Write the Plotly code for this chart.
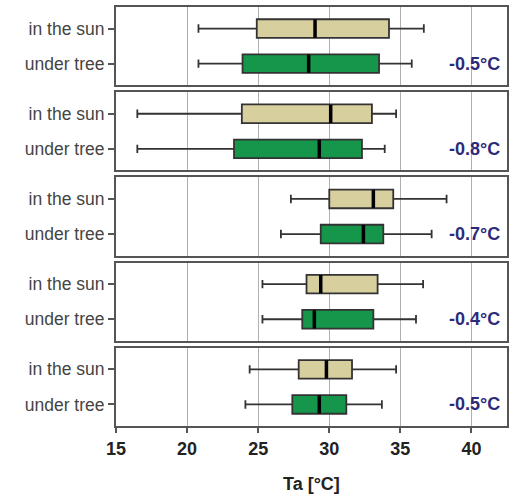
import plotly.graph_objects as go
from plotly.subplots import make_subplots

groups = ["in the sun", "under tree"]
differences = ["-0.5°C", "-0.8°C", "-0.7°C", "-0.4°C", "-0.5°C"]

# per panel: [sun, tree]
lower = [[20.8, 20.8], [16.5, 16.5], [27.3, 26.6], [25.3, 25.3], [24.4, 24.1]]
q1 = [[24.9, 23.9], [23.85, 23.3], [30.0, 29.4], [28.4, 28.1], [27.85, 27.4]]
median = [[29.0, 28.55], [30.1, 29.3], [33.1, 32.4], [29.4, 28.95], [29.8, 29.3]]
q3 = [[34.2, 33.5], [33.0, 32.3], [34.5, 33.8], [33.4, 33.1], [31.6, 31.2]]
upper = [[36.65, 35.8], [34.7, 33.9], [38.25, 37.2], [36.6, 36.1], [34.7, 33.7]]

colors = ["#D8CF9E", "#15964A"]
n = len(differences)
FONT = "Liberation Sans, Arial"

fig = make_subplots(rows=n, cols=1, shared_xaxes=True, vertical_spacing=0.0167)

shapes = []
annotations = []
for i in range(n):
    r = i + 1
    for g in range(2):
        fig.add_trace(go.Box(
            y=[groups[g]], q1=[q1[i][g]], median=[median[i][g]], q3=[q3[i][g]],
            lowerfence=[lower[i][g]], upperfence=[upper[i][g]],
            orientation="h", fillcolor=colors[g],
            line=dict(color="#333333", width=1.8),
            whiskerwidth=0.45, width=0.53, boxpoints=False, showlegend=False,
            hoverinfo="skip"), row=r, col=1)
    ax = "" if r == 1 else str(r)
    for g in range(2):
        pos = 1 if g == 0 else 0
        shapes.append(dict(type="line", xref="x" + ax, yref="y" + ax,
                           x0=median[i][g], x1=median[i][g],
                           y0=pos - 0.26, y1=pos + 0.26,
                           line=dict(color="black", width=3.5)))
    annotations.append(dict(xref="x" + ax + " domain", yref="y" + ax,
                            x=0.988, y=0, xanchor="right", yanchor="middle",
                            text="<b>" + differences[i] + "</b>", showarrow=False,
                            font=dict(family=FONT, size=18, color="#2D2A7A")))
    fig.update_yaxes(row=r, col=1, type="category", categoryorder="array",
                     categoryarray=["under tree", "in the sun"],
                     range=[-0.614, 1.614], showline=True, mirror=True,
                     linecolor="#555555", linewidth=2, ticks="outside",
                     ticklen=6, tickwidth=1.5, tickcolor="#555555",
                     showgrid=False, zeroline=False, automargin=False,
                     tickfont=dict(family=FONT, size=17.5, color="#444444"))
    fig.update_xaxes(row=r, col=1, range=[15, 42.5], tickvals=[15, 20, 25, 30, 35, 40],
                     ticktext=["<b>%d</b>" % v for v in [15, 20, 25, 30, 35, 40]],
                     showgrid=True, gridcolor="#b0b0b0", gridwidth=1,
                     showline=True, mirror=True, linecolor="#555555", linewidth=2,
                     zeroline=False, automargin=False,
                     ticks="outside" if r == n else "", ticklen=5, tickwidth=1.5,
                     tickcolor="#555555",
                     tickfont=dict(family=FONT, size=18, color="#222222"))

annotations.append(dict(xref="paper", yref="paper", x=0.5, y=-0.138,
                        xanchor="center", yanchor="middle",
                        text="<b>Ta [°C]</b>", showarrow=False,
                        font=dict(family=FONT, size=18, color="#222222")))

fig.update_layout(width=514, height=496, margin=dict(l=116, r=7, t=7, b=70),
                  plot_bgcolor="white", paper_bgcolor="white",
                  shapes=shapes, annotations=annotations)
fig.write_html("out.html", config={"displayModeBar": False},
               post_script="document.body.style.margin='0';document.body.style.overflow='hidden';")
